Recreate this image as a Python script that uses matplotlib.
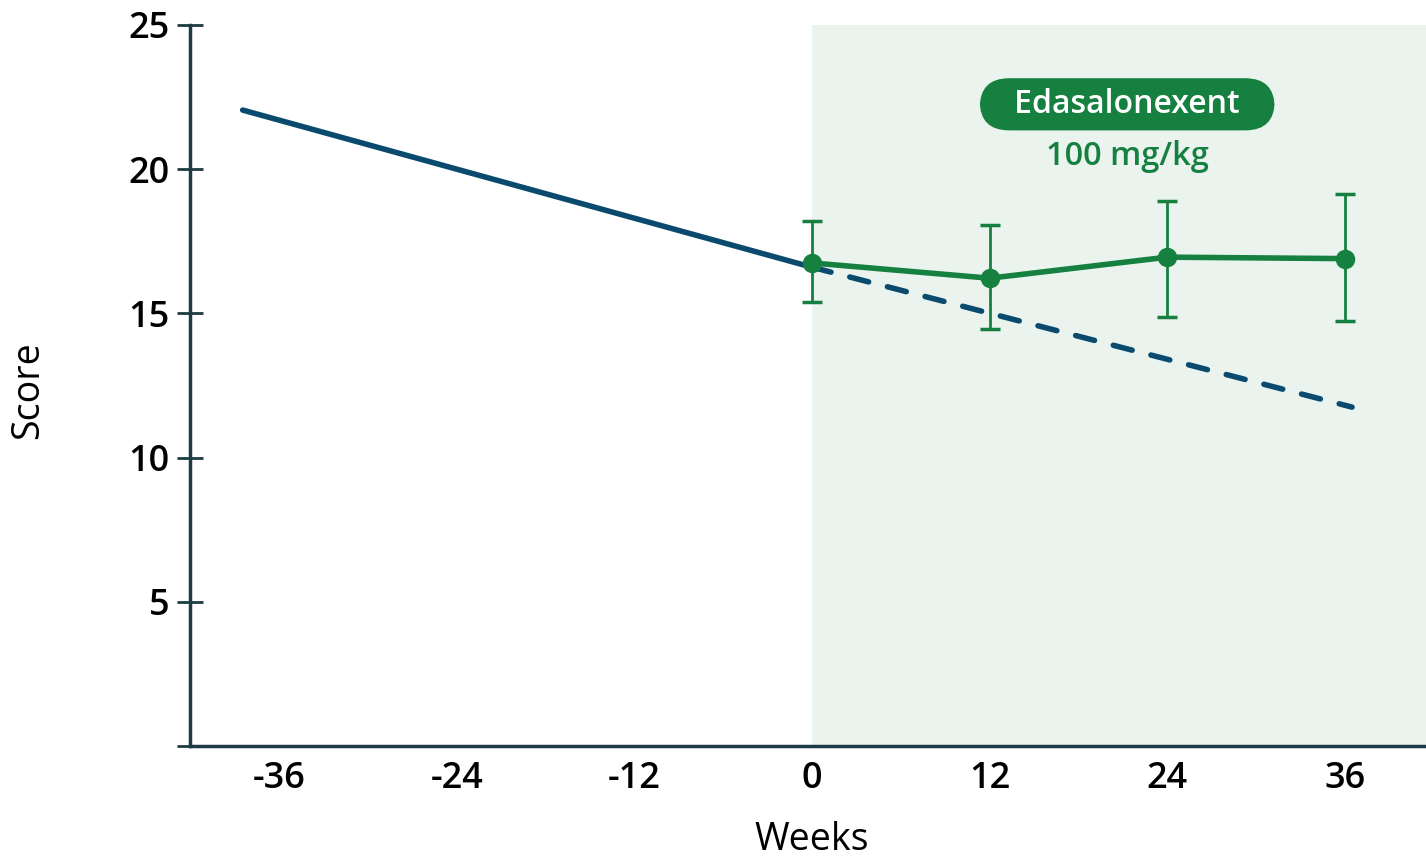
import numpy as np
import matplotlib.pyplot as plt

plt.rcParams['font.family'] = ['Open Sans', 'DejaVu Sans']

# natural history (pre-treatment) line and projected decline
hist_weeks = [-38.5, 0]
hist_score = [22.05, 16.6]
proj_weeks = [0, 36.5]
proj_score = [16.6, 11.75]

# treatment arm
trt_weeks = [0, 12, 24, 36]
trt_score = [16.75, 16.22, 16.95, 16.9]
trt_upper = [18.2, 18.05, 18.9, 19.15]
trt_lower = [15.38, 14.45, 14.88, 14.75]

xticks = [-36, -24, -12, 0, 12, 24, 36]
yticks = [5, 10, 15, 20, 25]

navy = '#0b4a6f'
green = '#15803f'
spine = '#1e3b45'
shade = '#eaf3ee'

fig = plt.figure(figsize=(14.26, 8.58), dpi=100)
ax = fig.add_axes([190 / 1426, 112 / 858, 1236 / 1426, 721 / 858])
ax.set_xlim(-42.06, 41.5)
ax.set_ylim(0, 25)

ax.axvspan(0, 41.5, color=shade, zorder=0, lw=0)

ax.plot(hist_weeks, hist_score, color=navy, lw=4, solid_capstyle='round', zorder=2)
ax.plot(proj_weeks, proj_score, color=navy, lw=4, ls=(0, (3.5, 3.5)), dash_capstyle='round', zorder=2)

yerr = [np.array(trt_score) - np.array(trt_lower), np.array(trt_upper) - np.array(trt_score)]
ax.errorbar(trt_weeks, trt_score, yerr=yerr, color=green, lw=4, marker='o', ms=13,
            elinewidth=2, capsize=7, capthick=2.5, zorder=3)

# badge: spaces widen the pill sideways
ax.text(21.3, 22.25, '   Edasalonexent   ', ha='center', va='center', fontsize=23,
        fontweight='semibold', color='white',
        bbox=dict(boxstyle='round,pad=0.3,rounding_size=0.92', fc=green, ec='none'))
ax.text(21.3, 20.45, '100 mg/kg', ha='center', va='center', fontsize=23.5,
        fontweight='semibold', color=green)

for s in ['top', 'right']:
    ax.spines[s].set_visible(False)
ax.spines['left'].set_color(spine)
ax.spines['bottom'].set_color(spine)
ax.spines['left'].set_linewidth(2.5)
ax.spines['bottom'].set_linewidth(2.5)

ax.set_xticks(xticks)
ax.set_xticklabels([str(t) for t in xticks])
ax.set_yticks([0] + yticks)
ax.set_yticklabels([''] + [str(t) for t in yticks])
ax.tick_params(axis='x', length=0, pad=11, labelsize=26)
ax.tick_params(axis='y', direction='inout', length=19, width=2, color=spine, pad=5, labelsize=26)
for lab in ax.get_xticklabels() + ax.get_yticklabels():
    lab.set_fontweight('semibold')

fig.text(812 / 1426, 1 - 840 / 858, 'Weeks', ha='center', va='center', fontsize=27)
fig.text(28 / 1426, 1 - 390 / 858, 'Score', ha='center', va='center', fontsize=27, rotation=90)

fig.savefig('out.png', dpi=100)
